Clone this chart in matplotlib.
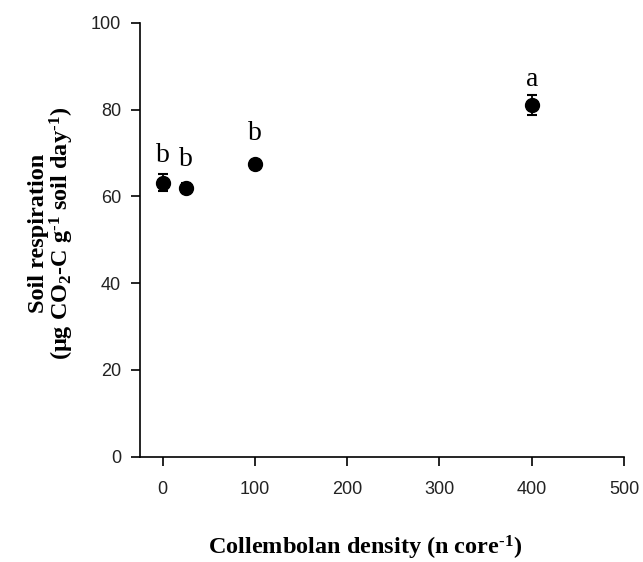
import numpy as np
import matplotlib
matplotlib.use("Agg")
import matplotlib.pyplot as plt

# data
density = [0, 25, 100, 400]
resp = [63.2, 62.0, 67.4, 81.0]
resp_err = [2.0, 1.2, 1.0, 2.3]
letters = ['b', 'b', 'b', 'a']
letter_y = [69.5, 68.5, 74.5, 87.0]

xticks = [0, 100, 200, 300, 400, 500]
yticks = [0, 20, 40, 60, 80, 100]

plt.rcParams['font.family'] = 'Liberation Sans'
plt.rcParams['mathtext.fontset'] = 'custom'
plt.rcParams['mathtext.rm'] = 'Liberation Serif:bold'

fig = plt.figure(figsize=(6.43, 5.62), dpi=100)
ax = fig.add_axes([0.2177, 0.1874, 0.7528, 0.7717])

ax.errorbar(density, resp, yerr=resp_err, fmt='o', color='black',
            markersize=10, capsize=3.5, elinewidth=1.3, capthick=1.5)

for x, y, t in zip(density, letter_y, letters):
    ax.text(x, y, t, ha='center', va='center', fontsize=20,
            family='Liberation Serif')

ax.set_xlim(-24.4, 500)
ax.set_ylim(0, 100)
ax.set_xticks(xticks)
ax.set_yticks(yticks)
ax.spines['top'].set_visible(False)
ax.spines['right'].set_visible(False)
for s in ['left', 'bottom']:
    ax.spines[s].set_linewidth(1.2)
ax.tick_params(direction='out', length=6.5, width=1.2, labelsize=13,
               labelcolor='#222222')
ax.tick_params(axis='x', pad=11)
ax.tick_params(axis='y', pad=7)

fig.text(0.568, 0.025, r'Collembolan density (n core$\mathregular{^{\text{-1}}}$)',
         ha='center', va='center', fontsize=17.5, fontweight='bold',
         family='Liberation Serif')
fig.text(0.060, 0.585, 'Soil respiration', rotation=90, ha='center',
         va='center', fontsize=17.5, fontweight='bold', family='Liberation Serif')
fig.text(0.097, 0.585,
         r'($\mathregular{\mu}$g CO$\mathregular{_2}$-C g$\mathregular{^{\text{-1}}}$ soil day$\mathregular{^{\text{-1}}}$)',
         rotation=90, ha='center', va='center', fontsize=17.5,
         fontweight='bold', family='Liberation Serif')

fig.savefig('out.png', dpi=100)
